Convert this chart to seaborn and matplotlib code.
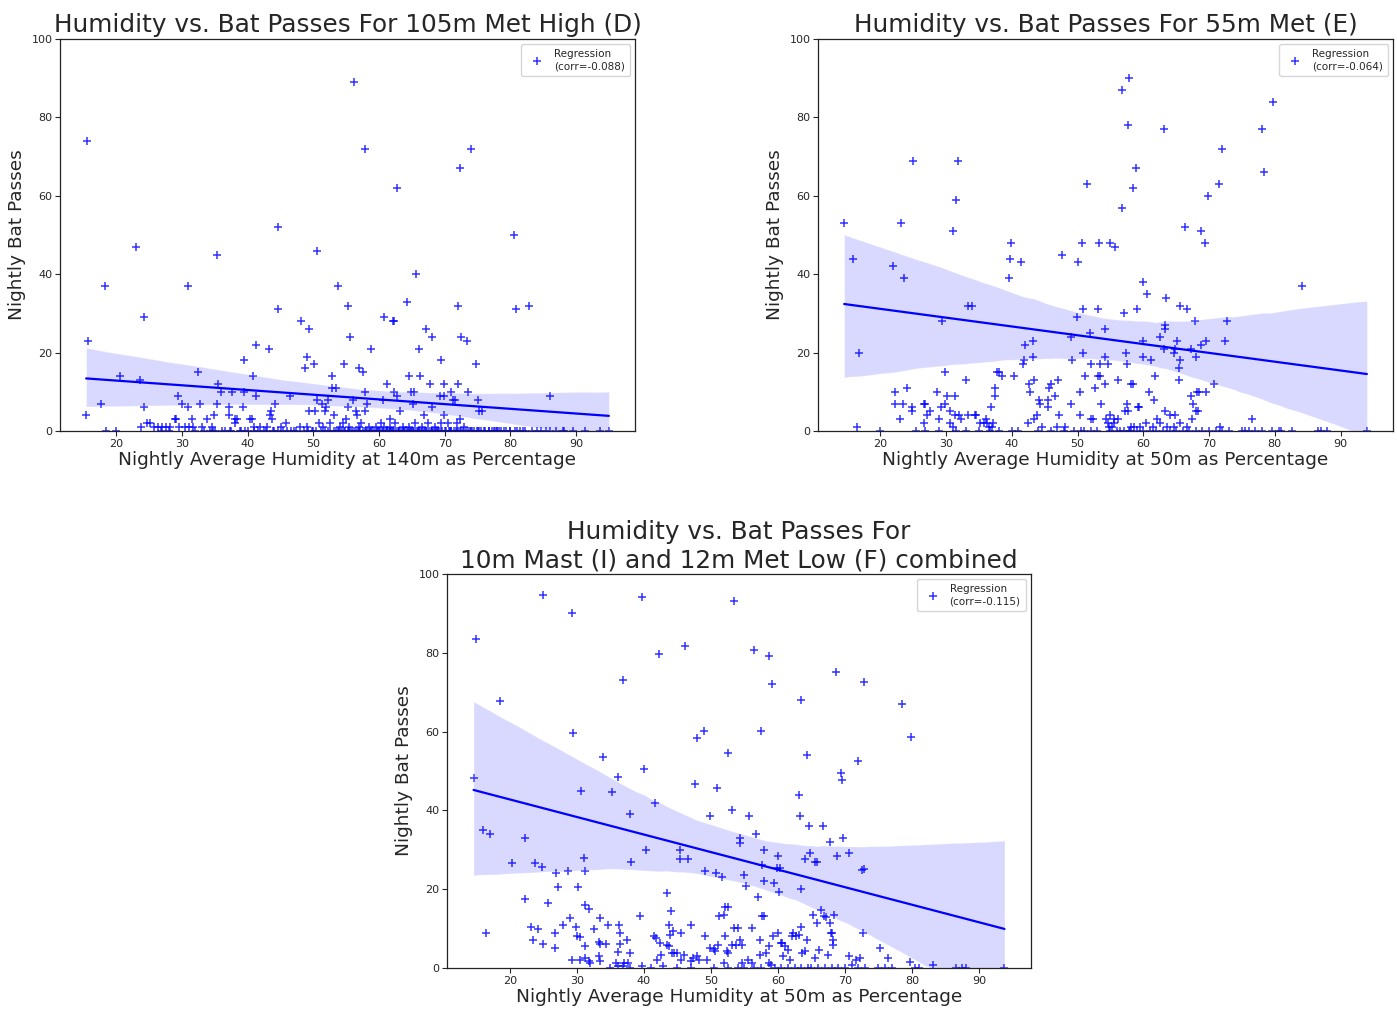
import numpy as np
import pandas as pd
import matplotlib
matplotlib.use("Agg")
import matplotlib.pyplot as plt
import seaborn as sns

# ---- 105m Met High (D): (humidity at 140m %, nightly bat passes) ----
d_nights = [
    (15.6, 74), (15.7, 23), (15.4, 4), (17.7, 7), (18.2, 37), (18.4, 0), (20, 0), (20.5, 14), (23, 47), (23.6, 13),
    (24.2, 29), (24.2, 6), (23.8, 1), (24.6, 2), (25.1, 2), (25.8, 1), (26.3, 1), (27, 1), (27.5, 1), (28.2, 1),
    (28.9, 3), (29.1, 3), (29.4, 9), (30, 7), (30.9, 37), (30.9, 6), (29.6, 1), (30.4, 1), (31.1, 1), (31.6, 1),
    (31.5, 3), (32.4, 15), (32.7, 7), (33.8, 3), (34.2, 0), (34.6, 1), (35, 0), (34.8, 4), (35.3, 45), (35.5, 12),
    (35.4, 7), (36, 10), (37.1, 6), (37.1, 4), (37.6, 10), (38, 3), (38.3, 3), (38, 2), (37.5, 0), (39.4, 18),
    (39.3, 6), (39.5, 10), (40.4, 3), (40.7, 3), (40.8, 14), (41.3, 22), (41.3, 9), (41, 1), (41.8, 1), (42.5, 0),
    (43.3, 21), (43.4, 4), (43.5, 5), (43.7, 3), (44.1, 7), (44.6, 52), (44.6, 31), (45, 1), (46.4, 9), (45.9, 2),
    (47, 0), (48.1, 28), (48.7, 16), (49.1, 19), (49.4, 26), (50.1, 17), (50.5, 46), (50.6, 8), (49.4, 5), (50.3, 5),
    (51.3, 7), (51.7, 5), (52, 6), (52.2, 8), (52.8, 14), (52.9, 11), (53.4, 11), (53.1, 4), (53.7, 37), (54.6, 17),
    (55.2, 32), (55.2, 6), (55.6, 24), (56.1, 8), (56.2, 89), (56.9, 16), (57.6, 15), (57.9, 72), (57.9, 10), (58.1, 7),
    (57.8, 5), (56.5, 5), (56.6, 4), (58.8, 21), (60.7, 29), (61.2, 12), (60.6, 8), (62.2, 28), (62.3, 28), (62.3, 10),
    (62.8, 62), (62.8, 9), (63.2, 5), (61.7, 3), (64.3, 33), (64.6, 14), (64.8, 10), (65.4, 10), (65.1, 7), (65.6, 40),
    (66.1, 21), (66.2, 14), (67.1, 26), (67.8, 12), (68.1, 24), (68.1, 6), (66.9, 4), (69.5, 18), (69.9, 12), (69.3, 9),
    (69.9, 9), (69.9, 4), (70.9, 10), (71.2, 8), (71.5, 8), (72, 32), (72.1, 12), (72.3, 67), (72.5, 24), (72.3, 3),
    (73.4, 23), (73.6, 10), (74, 72), (74.8, 17), (75.1, 8), (75.3, 5), (75.7, 5), (80.5, 50), (80.8, 31), (82.8, 32),
    (86.1, 9),
    (48, 1), (49, 1), (50, 0), (50.8, 2), (51.5, 1), (52.5, 2), (53.5, 0), (54, 1), (54.5, 2), (55, 3),
    (55.5, 1), (56, 0), (57, 1), (57.3, 2), (58, 0), (58.5, 1), (59, 0), (59.5, 1), (60, 0), (60.3, 2),
    (60.8, 1), (61.2, 0), (61.6, 1), (62, 0), (62.5, 2), (63, 0), (63.6, 1), (64, 0), (64.5, 1), (65, 0),
    (65.5, 2), (66, 0), (66.5, 1), (67, 0), (67.5, 2), (68, 0), (68.5, 1), (69, 0), (69.5, 2), (70, 0),
    (70.5, 2), (71, 0), (71.8, 2), (72.5, 0), (73, 1), (74, 0), (75, 0), (76, 0), (76.8, 0), (77.5, 0),
    (78, 0), (79, 0), (80, 0), (81, 0), (82, 0), (84, 0), (86, 0), (88, 0), (95, 0), (44, 0),
    (46, 0), (43, 1), (39, 0), (40, 0), (36.5, 0), (33, 1), (32, 0), (28, 0), (26.8, 0),
]
# humidity on further nights with no passes (they stack on the zero line)
d_quiet_humidity = [
    33.4, 34.7, 36.1, 37.3, 38.8, 39.6, 40.9, 41.5, 42.8, 43.9, 44.6, 45.4, 46.6, 47.3, 48.5, 49.2, 49.8, 50.4, 51.1, 51.7,
    52.3, 52.6, 53.2, 53.7, 54.3, 54.8, 55.4, 55.7, 56.3, 56.7, 57.1, 57.6, 58.2, 58.6, 59.3, 59.7, 60.2, 60.6, 61.0, 61.5,
    61.9, 62.3, 62.6, 63.1, 63.4, 63.8, 64.2, 64.7, 65.1, 65.4, 65.9, 66.3, 66.8, 67.2, 67.6, 68.1, 68.4, 68.9, 69.2, 69.6,
    70.2, 70.6, 71.0, 71.4, 71.9, 72.3, 72.8, 73.2, 73.9, 74.4, 74.9, 75.6, 76.2, 76.7, 77.2, 77.9, 78.6, 79.3, 79.9, 80.7,
    81.4, 82.2, 83.3, 84.6, 85.5, 86.9, 88.2, 89.6, 91.4, 93.7, 53.9, 55.2, 56.9, 58.8, 60.4, 61.7, 62.9, 64.4, 65.6, 66.6,
    67.9, 69.4, 70.8, 72.1, 73.6, 75.2, 77.6, 59.9, 63.6, 67.3, 71.7, 57.8, 61.2, 64.9, 68.7, 54.6, 74.1, 78.3, 66.1, 62.1,
]
# nights above the plotted range (more than 100 passes)
d_busy_nights = [(16.2, 175), (46.7, 192), (66.8, 200), (80.5, 111)]

# ---- 55m Met (E): (humidity at 50m %, nightly bat passes) ----
e_nights = [
    (14.5, 53), (15.9, 44), (16.4, 1), (16.8, 20), (20, 0), (22, 42), (22.2, 10), (22.2, 7), (23.2, 53), (23, 3),
    (23.4, 7), (23.6, 39), (24, 11), (24.9, 69), (24.8, 6), (24.8, 5), (25.5, 0), (26.6, 7), (26.8, 7), (26.6, 2),
    (27.1, 4), (27.6, 5), (28.6, 10), (28.9, 3), (29.2, 6), (29.4, 28), (29.8, 7), (29.9, 15), (30.2, 9), (30.6, 5),
    (30.6, 2), (31, 51), (31.3, 9), (31.5, 59), (31.8, 69), (31.4, 4), (31.9, 4), (31.1, 1), (32.3, 3), (33.1, 13),
    (33.4, 32), (33.9, 32), (33.3, 4), (34.4, 4), (34.6, 4), (35.2, 2), (35.8, 2), (36, 3), (36.3, 2), (36.5, 1),
    (36.7, 0), (37, 1), (37.2, 2), (36.8, 6), (37.5, 11), (37.5, 9), (37.7, 15), (38, 15), (38.5, 14), (39.5, 39),
    (39.7, 44), (39.9, 48), (40.4, 14), (41.4, 43), (41.7, 17), (41.9, 18), (42, 22), (42.4, 2), (42.6, 12), (42.7, 10),
    (43.2, 23), (43.2, 19), (43.4, 13), (43.4, 3), (43.9, 4), (44.2, 8), (44.3, 7), (44.6, 1), (45.5, 6), (45.5, 8),
    (45.7, 11), (45.9, 12), (46.5, 9), (47, 13), (47.2, 4), (46.8, 1), (47.6, 45), (48.1, 1), (49, 7), (49, 24),
    (49.2, 18), (49.9, 29), (50.1, 43), (50.3, 4), (50.4, 10), (50.7, 48), (50.8, 31), (50.9, 20), (51.1, 14), (51.5, 63),
    (51.9, 25), (52, 17), (52.1, 3), (52.3, 3), (52.7, 11), (53.1, 31), (53.1, 14), (53.4, 14), (53.2, 48), (53.4, 17),
    (53.5, 7), (54.2, 12), (54.2, 26), (54.2, 19), (54.6, 17), (54.9, 48), (55.7, 47), (54.3, 3), (54.6, 2), (55, 4),
    (55.3, 1), (55.6, 3), (56, 0), (56.2, 13), (56.7, 57), (56.8, 87), (57, 30), (57.2, 5), (57.6, 5), (57.3, 20),
    (57.5, 17), (57.5, 7), (57.6, 78), (57.9, 90), (58.1, 12), (58.4, 12), (58.5, 62), (58.9, 67), (59, 31), (59.2, 6),
    (59.4, 6), (59.9, 23), (59.9, 38), (59.9, 19), (60.6, 35), (60.8, 10), (61.1, 18), (61.6, 8), (61.8, 14), (62.1, 3),
    (62.5, 24), (63.1, 77), (63.3, 27), (63.5, 34), (63.3, 26), (63.1, 21), (63.3, 5), (64, 4), (64.8, 4), (64.7, 20),
    (64.8, 21), (65.1, 23), (65.5, 16), (65.5, 13), (65.6, 18), (65.6, 32), (66.3, 52), (66.6, 31), (67.2, 9), (67.2, 21),
    (67.5, 7), (67.8, 28), (68, 19), (68, 5), (68.3, 5), (68.1, 10), (68.4, 10), (68.7, 51), (68.7, 22), (69.4, 48),
    (69.5, 23), (69.5, 10), (69.9, 60), (70.7, 12), (71.5, 63), (72, 72), (72.4, 23), (72.8, 28), (76.6, 3), (78.1, 77),
    (78.4, 66), (79.8, 84), (84.1, 37),
    (26.8, 0), (29, 0), (31.5, 0), (33, 0), (35, 0), (38, 0), (40, 0), (41, 0), (44, 0), (46, 0),
    (48, 0), (49.5, 0), (50.5, 0), (51, 0), (52, 0), (53, 0), (55, 0), (56.5, 0), (57, 0), (58, 0),
    (58.6, 1), (59, 0), (59.5, 1), (60, 0), (60.4, 2), (61, 0), (61.5, 1), (62, 0), (62.6, 2), (63, 0),
    (63.6, 1), (64, 0), (64.6, 1), (65, 0), (65.6, 2), (66, 0), (66.6, 1), (67, 0), (67.4, 3), (68, 0),
    (69, 0), (70, 0), (71, 0), (71.6, 1), (72, 0), (73, 0), (75, 0), (75.5, 0), (76, 0), (77, 0),
    (78, 0), (79.6, 0), (80.6, 0), (81, 0), (82.6, 0), (86.6, 0), (87, 0), (88, 0), (94, 0), (55.5, 2),
    (56.2, 3), (54.8, 1), (57.8, 0), (58.2, 1),
]
e_busy_nights = [
    (16.1, 290), (23.3, 285), (29.3, 250), (35.0, 270), (40.2, 240),
    (46.4, 200), (51.0, 140), (56.8, 225), (64.8, 250), (79.8, 250),
]

# ---- 10m Mast (I) + 12m Met Low (F): (humidity at 50m %, nightly bat passes) ----
f_nights = [
    (14.6, 48.1), (14.9, 83.5), (16, 35), (16.5, 9), (17, 34), (18.6, 67.7), (20.3, 26.6), (22.3, 33.1), (22.3, 17.6), (23.1, 10.5),
    (24.2, 10), (23.4, 7), (23.7, 26.6), (24.8, 25.7), (25, 94.7), (25, 6), (25.7, 16.6), (26.7, 9), (26.7, 5), (26.9, 24.2),
    (27.2, 20.6), (27.9, 11), (28.7, 24.6), (29, 12.6), (29.3, 90), (29.3, 2), (29.5, 59.7), (29.9, 10.5), (30.2, 20.6), (30, 8.2),
    (30.5, 7.8), (30.6, 45), (30.5, 2), (31.1, 28), (31.2, 16), (31.3, 24.5), (31.3, 5.7), (31.3, 2.5), (31.8, 15), (31.8, 1.7),
    (31.9, 1.3), (32.5, 10), (33.4, 12.6), (33.3, 6.5), (33.5, 6), (33.3, 3), (33.5, 1.7), (33.9, 53.6), (34.3, 6), (34.6, 11),
    (35.2, 44.6), (35.9, 1.3), (36.2, 0.6), (36.2, 48.6), (36.3, 11), (36.4, 9), (36.2, 4), (36.5, 6), (36.9, 73.1), (37, 1.3),
    (36.9, 0.4), (37.5, 7.2), (37.9, 3.8), (37.6, 1.3), (38, 39.2), (38.1, 27), (39.5, 13.1), (39.7, 0.4), (39.8, 94.1), (40, 50.5),
    (40.4, 30), (41.5, 8), (41.8, 7.6), (41.6, 42), (41.9, 2), (42.3, 79.6), (42.4, 6.3), (42.6, 3.4), (42.9, 0.4), (43.4, 19),
    (43.4, 5.9), (43.7, 5.5), (43.7, 11), (43.9, 8.4), (44, 14.5), (44.2, 3.8), (44.5, 3.8), (44.9, 3.8), (44.3, 9.3), (45.4, 30),
    (45.4, 27.6), (45.6, 9), (45.6, 2), (46, 3.4), (46.2, 81.6), (46.6, 27.6), (47.1, 11), (47.1, 1.7), (47.4, 2.5), (47.7, 46.6),
    (47.9, 58.5), (48, 3), (48.2, 2), (49, 60.2), (49.2, 24.5), (49.2, 8), (49.5, 2), (49.9, 38.6), (49.9, 5), (50.4, 4.9),
    (50.6, 4.4), (50.7, 24.2), (50.9, 45.6), (51, 5.9), (51.2, 13.1), (51.7, 23.2), (52, 13.5), (52.1, 15.6), (52.5, 15.6), (52.1, 8),
    (52.4, 4.4), (52.6, 3.8), (52, 1.3), (52.5, 54.6), (53.2, 5.9), (53.8, 5.9), (53.2, 40.1), (53.4, 93.1), (53.4, 10.1), (54, 10.1),
    (54.3, 32.9), (54.3, 31.6), (54.3, 7.2), (54.6, 5.9), (54.6, 1.3), (55, 23.5), (55.3, 20.7), (55.5, 2), (55.7, 38.6), (56.2, 10.1),
    (56.2, 1.3), (56.4, 80.6), (56.8, 34), (57.1, 18.1), (57.3, 7.2), (57.4, 3.4), (57.5, 60.1), (57.7, 26.2), (57.7, 13.1), (58, 13.1),
    (57.9, 30), (58, 22.1), (58.3, 3.8), (58.7, 5.5), (58.7, 79.2), (58.7, 1.3), (59, 0.8), (59.1, 72.1), (59.4, 21.5), (59.3, 8),
    (59.9, 25.5), (60, 28.5), (60, 9), (60.1, 19.2), (60.3, 25.3), (60.4, 6.3), (60.6, 6.3), (61.1, 5.5), (60.8, 3), (61.5, 4.6),
    (61.8, 2), (62.1, 8), (62.7, 8), (62.3, 9), (63.2, 8.4), (63.2, 44), (63.3, 38.6), (63.5, 68.1), (63.5, 20.1), (63.5, 10.5),
    (63.6, 3.8), (64, 4.2), (64.3, 7), (64.4, 54.1), (64.7, 36), (64.1, 27.6), (64.8, 29.1), (65.2, 13.5), (65.5, 27), (65.8, 27),
    (65.8, 11.4), (65.5, 2.5), (66.1, 4.6), (66.4, 14.8), (66.7, 36), (66.9, 13.1), (67.2, 12.9), (67.5, 3.3), (67.8, 31.9), (67.8, 11.4),
    (67.9, 9), (68.1, 9), (68.2, 7.2), (68.2, 5.9), (68.4, 13.5), (68.7, 75.1), (68.8, 28.4), (69.4, 49.5), (69.6, 47.7), (69.7, 33.1),
    (70.6, 29.1), (70.6, 3.1), (71, 0.8), (71.9, 52.6), (72.5, 24.9), (72.9, 25.1), (72.7, 9), (72.9, 72.5), (71.7, 2), (72.2, 2.5),
    (75.2, 5.1), (76.4, 2.5), (78.5, 67.1), (79.7, 1.5), (79.9, 58.6), (83.2, 0.7),
    (35, 0), (38, 0), (41, 0), (45, 0), (47, 0), (50.5, 0), (52.5, 0), (54, 0), (55, 0), (56.5, 0),
    (57.5, 0), (59.5, 0), (60.5, 0), (61.5, 0), (62.5, 0), (63.5, 0), (64.5, 0), (65, 0), (66, 0), (67, 0),
    (68, 0), (69, 0), (70, 0), (72, 0), (73, 0), (75, 0), (76, 0), (77, 0), (80.5, 0), (81, 0),
    (86.6, 0), (87.4, 0), (88, 0), (93.8, 0),
]
f_busy_nights = [
    (15.1, 420), (20.7, 240), (25.5, 210), (29.6, 230), (34.5, 285), (38.9, 255), (43.8, 210),
    (48.9, 150), (54.3, 229), (60.0, 185), (65.9, 315), (73.2, 310), (82.6, 186),
]

titles = [
    "Humidity vs. Bat Passes For 105m Met High (D)",
    "Humidity vs. Bat Passes For 55m Met (E)",
    "Humidity vs. Bat Passes For\n10m Mast (I) and 12m Met Low (F) combined",
]
x_labels = [
    "Nightly Average Humidity at 140m as Percentage",
    "Nightly Average Humidity at 50m as Percentage",
    "Nightly Average Humidity at 50m as Percentage",
]
corr_labels = ["-0.088", "-0.064", "-0.115"]


def panel_frame(nights, quiet, busy):
    rows = list(nights) + [(h, 0) for h in quiet] + list(busy)
    return pd.DataFrame(rows, columns=["humidity", "passes"])


frames = [
    panel_frame(d_nights, d_quiet_humidity, d_busy_nights),
    panel_frame(e_nights, [], e_busy_nights),
    panel_frame(f_nights, [], f_busy_nights),
]

sns.set_style("white")
plt.rcParams["font.family"] = ["DejaVu Sans"]
plt.rcParams["axes.edgecolor"] = "#222222"
plt.rcParams["xtick.bottom"] = True
plt.rcParams["ytick.left"] = True

W, H = 1397, 1010
fig = plt.figure(figsize=(W / 100, H / 100), dpi=100)
boxes = [(60, 39, 635, 431), (818, 39, 1393, 431), (447, 574, 1031, 968)]

for (l, t, r, b), df, title, xl, corr in zip(boxes, frames, titles, x_labels, corr_labels):
    ax = fig.add_axes([l / W, 1 - b / H, (r - l) / W, (b - t) / H])
    sns.regplot(
        data=df, x="humidity", y="passes", ax=ax, marker="+", color="blue",
        ci=95, n_boot=1000, seed=7,
        scatter_kws={"s": 26, "linewidths": 1.1},
        line_kws={"linewidth": 1.6},
        label=f"Regression\n(corr={corr})",
    )
    ax.set_ylim(0, 100)
    ax.set_title(title, fontsize=17.8, pad=5)
    ax.set_xlabel(xl, fontsize=13.3, labelpad=2)
    ax.set_ylabel("Nightly Bat Passes", fontsize=13.3)
    ax.tick_params(labelsize=8, length=3.5, width=0.8, pad=2)
    for s in ax.spines.values():
        s.set_linewidth(0.9)
    ax.legend(loc="upper right", fontsize=7.5, handletextpad=0.6, borderpad=0.5)

fig.savefig("out.png", dpi=100)
